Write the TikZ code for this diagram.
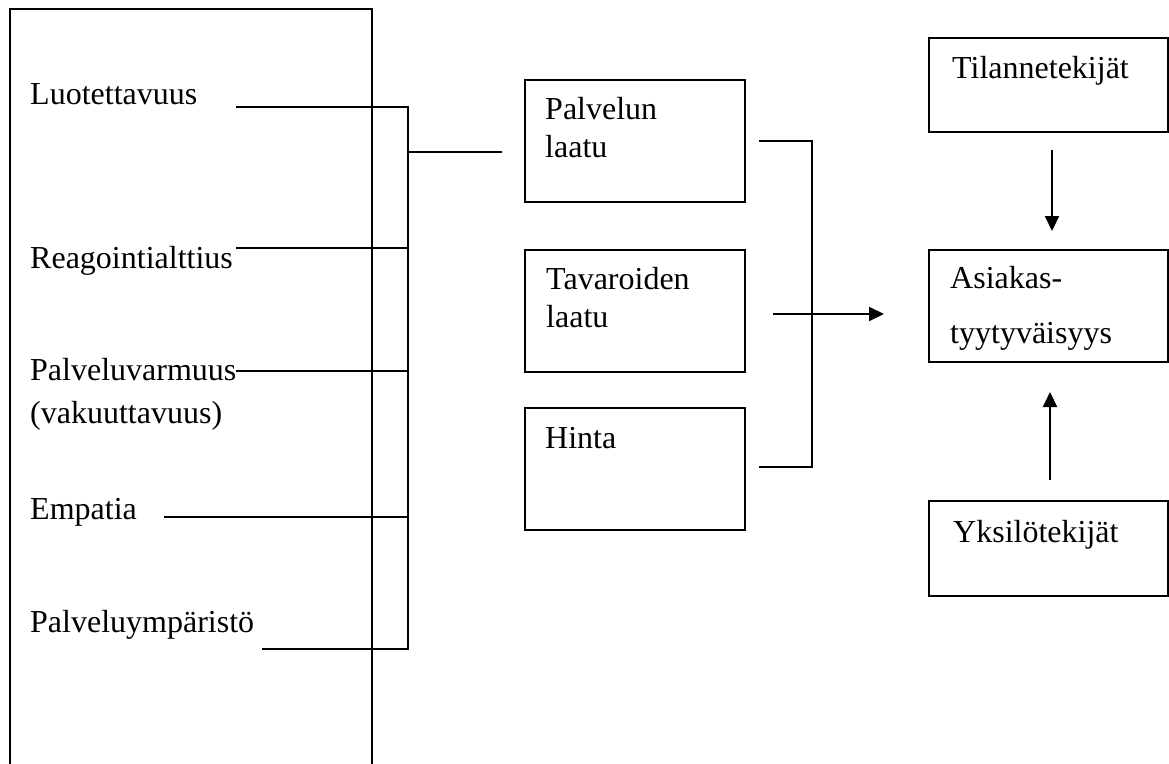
\documentclass[tikz,border=0pt]{standalone}
\usepackage{fontspec}
\setmainfont{Liberation Serif}
\usetikzlibrary{arrows.meta}
\begin{document}
\begin{tikzpicture}[x=1pt,y=-1pt,
  ln/.style={line width=2pt,black},
  arr/.style={line width=2pt,-{Triangle[length=15pt,width=14pt]}},
  boxn/.style={draw,line width=2pt,anchor=north west,inner sep=0pt},
  lbl/.style={anchor=base west,inner sep=0pt,font=\fontsize{32}{38}\selectfont}]
\useasboundingbox (0,0) rectangle (1169,763);
% left open box
\draw[ln] (10,775) -- (10,9) -- (372,9) -- (372,775);
% left labels
\node[lbl] (t1) at (30,104) {Luotettavuus};
\node[lbl] (t2) at (30,268) {Reagointialttius};
\node[lbl] (t3) at (30,380) {Palveluvarmuus};
\node[lbl] (t3b) at (30,423) {(vakuuttavuus)};
\node[lbl] (t4) at (30,519) {Empatia};
\node[lbl] (t5) at (30,632) {Palveluympäristö};
% line starts
\coordinate (s1) at (236,107);
\coordinate (s2) at (236,248);
\coordinate (s3) at (236,371);
\coordinate (s4) at (164,517);
\coordinate (s5) at (262,649);
\coordinate (j1) at (408,107);
\coordinate (j2) at (408,248);
\coordinate (j3) at (408,371);
\coordinate (j4) at (408,517);
\coordinate (j5) at (408,649);
\coordinate (jo) at (408,152);
\coordinate (oe) at (502,152);
\draw[ln] (s1) -- (j1) -- (j5) -- (s5);
\draw[ln] (s2) -- (j2);
\draw[ln] (s3) -- (j3);
\draw[ln] (s4) -- (j4);
\draw[ln] (jo) -- (oe);
% middle boxes
\node[boxn,minimum width=220pt,minimum height=122pt] (pl) at (524,79) {};
\node[boxn,minimum width=220pt,minimum height=122pt] (tl) at (524,249) {};
\node[boxn,minimum width=220pt,minimum height=122pt] (hi) at (524,407) {};
\node[lbl] (pl1) at (545,119) {Palvelun};
\node[lbl] (pl2) at (545,157) {laatu};
\node[lbl] (tl1) at (546,289) {Tavaroiden};
\node[lbl] (tl2) at (546,327) {laatu};
\node[lbl] (hi1) at (545,448) {Hinta};
% right bracket
\coordinate (b1) at (759,141);
\coordinate (b2) at (812,141);
\coordinate (b3) at (812,467);
\coordinate (b4) at (759,467);
\draw[ln] (b1) -- (b2) -- (b3) -- (b4);
\coordinate (a0) at (773,314);
\coordinate (a1) at (884,314);
\draw[arr] (a0) -- (a1);
% right boxes
\node[boxn,minimum width=239pt,minimum height=94pt] (ti) at (928,37) {};
\node[boxn,minimum width=239pt,minimum height=112pt] (as) at (928,249) {};
\node[boxn,minimum width=239pt,minimum height=95pt] (yk) at (928,500) {};
\node[lbl] (ti1) at (952,78) {Tilannetekijät};
\node[lbl] (as1) at (950,288) {Asiakas-};
\node[lbl] (as2) at (950,343) {tyytyväisyys};
\node[lbl] (yk1) at (953,542) {Yksilötekijät};
\coordinate (d0) at (1052,150);
\coordinate (d1) at (1052,231);
\draw[arr] (d0) -- (d1);
\coordinate (u0) at (1050,480);
\coordinate (u1) at (1050,392);
\draw[arr] (u0) -- (u1);
\end{tikzpicture}
\end{document}
